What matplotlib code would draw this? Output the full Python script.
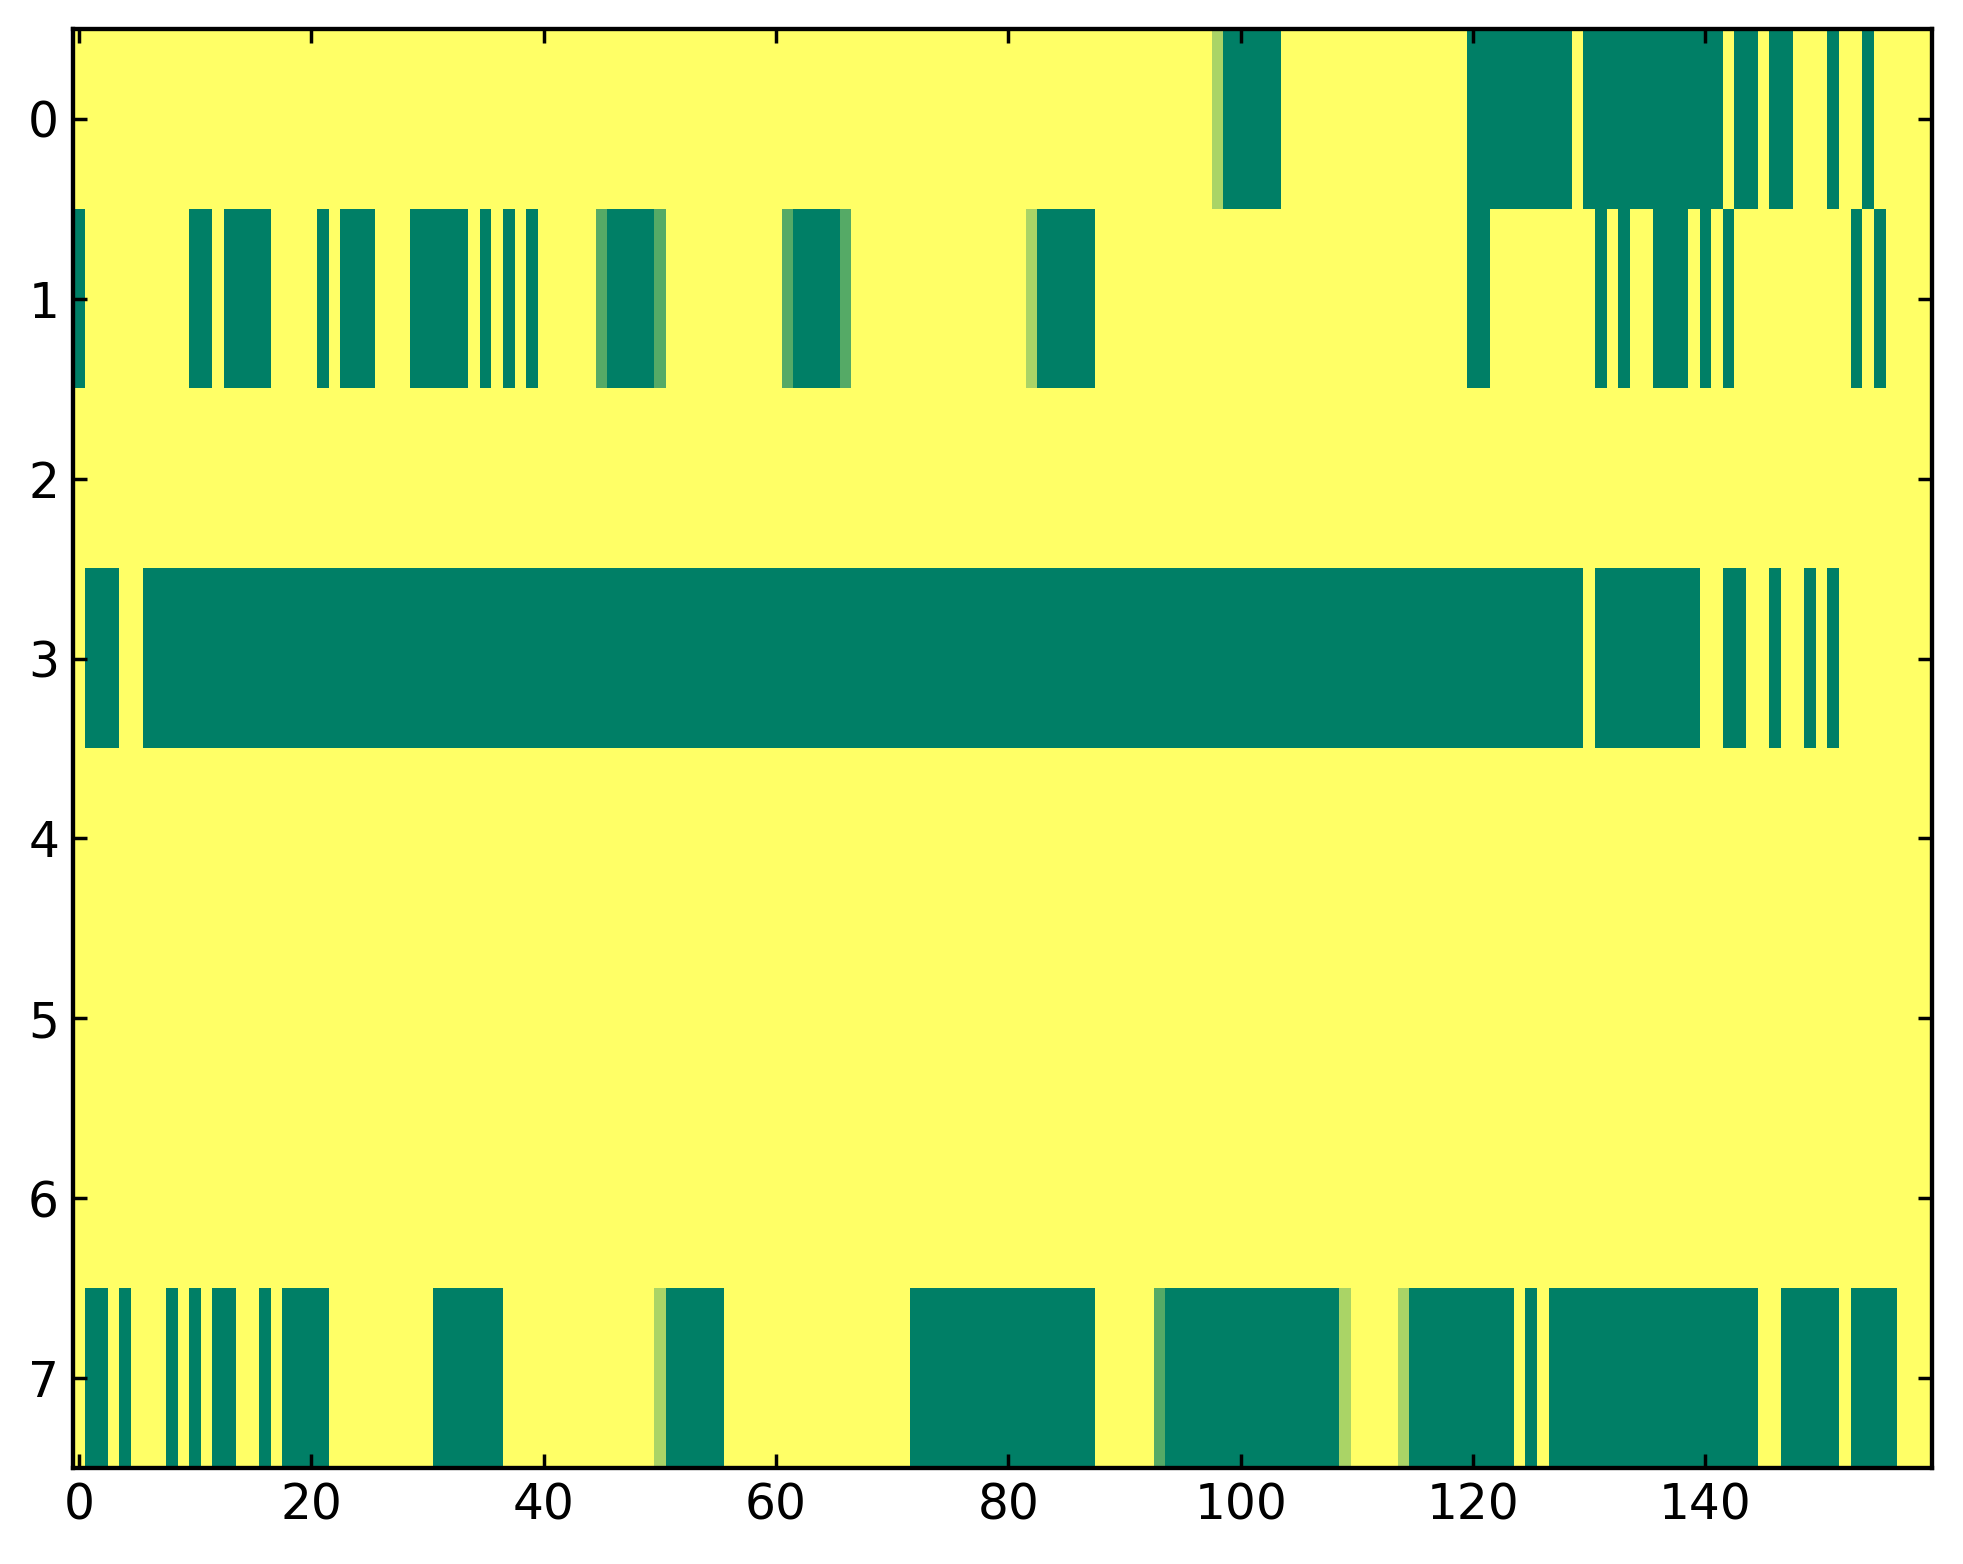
import numpy as np
import matplotlib
matplotlib.use("Agg")
import matplotlib.pyplot as plt

# each character is one cell: 0 -> 0, 1 -> 1/3, 2 -> 2/3, 3 -> 1
row_0 = ("3333333333" "3333333333" "3333333333" "3333333333"
         "3333333333" "3333333333" "3333333333" "3333333333"
         "3333333333" "3333333320" "0000333333" "3333333333"
         "0000000003" "0000000000" "0030030033" "3033033333")
row_1 = ("0333333333" "0030000333" "3030003330" "0000303030"
         "3333310000" "1333333333" "3100001333" "3333333333"
         "3320000033" "3333333333" "3333333333" "3333333333"
         "0033333333" "3030330003" "0303333333" "3330303333")
row_2 = "3333333333" * 16
row_3 = ("3000330000" "0000000000" "0000000000" "0000000000"
         "0000000000" "0000000000" "0000000000" "0000000000"
         "0000000000" "0000000000" "0000000000" "0000000000"
         "0000000000" "3000000000" "3300330330" "3033333333")
row_4 = "3333333333" * 16
row_5 = "3333333333" * 16
row_6 = "3333333333" * 16
row_7 = ("3003033303" "0300330300" "0033333333" "3000000333"
         "3333333333" "2000003333" "3333333333" "3300000000"
         "0000000033" "3331000000" "0000000002" "3333200000"
         "0000303000" "0000000000" "0000033000" "0030000333")

rows = [row_0, row_1, row_2, row_3, row_4, row_5, row_6, row_7]
grid = np.array([[int(c) / 3.0 for c in r] for r in rows])

x_ticks = [0, 20, 40, 60, 80, 100, 120, 140]
y_ticks = [0, 1, 2, 3, 4, 5, 6, 7]

dpi = 250
fig = plt.figure(figsize=(1963 / dpi, 1564 / dpi), dpi=dpi, facecolor="white")
ax = fig.add_axes([73 / 1963, 1 - 1468 / 1564, 1859 / 1963, 1439 / 1564])
ax.imshow(grid, cmap="summer", vmin=0, vmax=1, interpolation="nearest", aspect="auto")

ax.set_xticks(x_ticks)
ax.set_yticks(y_ticks)
ax.tick_params(direction="in", length=4, width=1, top=True, right=True,
               labelsize=14, pad=4, colors="black")
for s in ax.spines.values():
    s.set_linewidth(1.25)

fig.savefig("out.png", dpi=dpi, facecolor="white")
